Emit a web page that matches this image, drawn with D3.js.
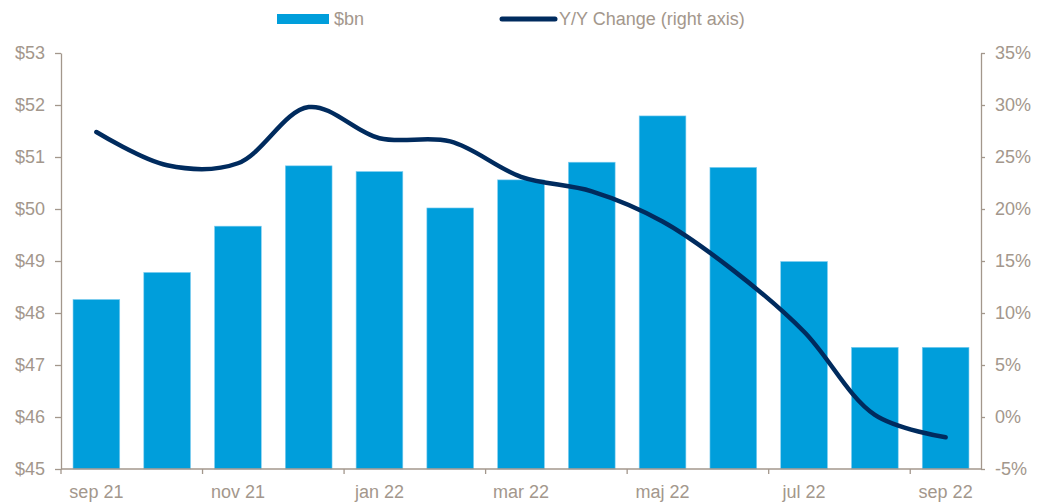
<!DOCTYPE html>
<html>
<head>
<meta charset="utf-8">
<script src="https://cdn.jsdelivr.net/npm/d3@7"></script>
<style>
  body { margin: 0; background: #fff; }
  svg text { font-family: "Liberation Sans", Arial, sans-serif; fill: #a3978c; }
</style>
</head>
<body>
<div id="chart"></div>
<script>
const months = ['sep 21', 'okt 21', 'nov 21', 'dec 21', 'jan 22', 'feb 22', 'mar 22',
  'apr 22', 'maj 22', 'jun 22', 'jul 22', 'aug 22', 'sep 22'];
const spending = [48.26, 48.78, 49.67, 50.83, 50.72, 50.02, 50.56, 50.90, 51.79, 50.80, 48.99, 47.34, 47.34];
const yoyChange = [27.4, 24.2, 24.4, 29.8, 26.8, 26.5, 23.1, 21.7, 18.8, 14.1, 8.2, 0.2, -1.95];
const leftTicks = [45, 46, 47, 48, 49, 50, 51, 52, 53];
const rightTicks = [-5, 0, 5, 10, 15, 20, 25, 30, 35];
const labelMonths = ['sep 21', 'nov 21', 'jan 22', 'mar 22', 'maj 22', 'jul 22', 'sep 22'];

const width = 1045, height = 503;
const margin = { top: 53, right: 64, bottom: 34, left: 61 };
const axisColor = '#a3978c';
const barColor = '#009edb';
const lineColor = '#002b5e';
const fontSize = '18px';

const svg = d3.select('#chart').append('svg')
  .attr('width', width)
  .attr('height', height);

const x = d3.scaleBand()
  .domain(months)
  .range([margin.left, width - margin.right])
  .paddingInner(0.34)
  .paddingOuter(0.17);

const yLeft = d3.scaleLinear()
  .domain([45, 53])
  .range([height - margin.bottom, margin.top]);

const yRight = d3.scaleLinear()
  .domain([-5, 35])
  .range([height - margin.bottom, margin.top]);

// bars
svg.append('g').selectAll('rect')
  .data(months)
  .enter().append('rect')
  .attr('x', d => x(d))
  .attr('width', x.bandwidth())
  .attr('y', (d, i) => yLeft(spending[i]))
  .attr('height', (d, i) => yLeft(45) - yLeft(spending[i]))
  .style('fill', barColor)
  .style('stroke', '#7fcdf0')
  .style('stroke-width', 0.6);

// line
const line = d3.line()
  .x((d, i) => x(months[i]) + x.bandwidth() / 2)
  .y(d => yRight(d))
  .curve(d3.curveCatmullRom.alpha(0.5));

svg.append('path')
  .datum(yoyChange)
  .attr('d', line)
  .style('fill', 'none')
  .style('stroke', lineColor)
  .style('stroke-width', 4.5)
  .style('stroke-linecap', 'round')
  .style('stroke-linejoin', 'round');

function styleAxis(g) {
  g.selectAll('path, line').style('stroke', axisColor).style('stroke-width', 1.3);
  g.selectAll('text').style('fill', axisColor).style('font-size', fontSize)
    .style('font-family', '"Liberation Sans", Arial, sans-serif');
}

// left axis
svg.append('g')
  .attr('transform', `translate(${margin.left},0)`)
  .call(d3.axisLeft(yLeft).tickValues(leftTicks).tickFormat(d => '$' + d)
    .tickSize(6).tickSizeOuter(0).tickPadding(10))
  .call(styleAxis);

// right axis
svg.append('g')
  .attr('transform', `translate(${width - margin.right},0)`)
  .call(d3.axisRight(yRight).tickValues(rightTicks).tickFormat(d => d + '%')
    .tickSize(4).tickSizeOuter(0).tickPadding(10))
  .call(styleAxis);

// bottom axis: labels at bar centres, ticks at band boundaries
const bottom = svg.append('g')
  .attr('transform', `translate(0,${height - margin.bottom})`)
  .call(d3.axisBottom(x).tickValues(labelMonths).tickSize(0).tickSizeOuter(0).tickPadding(16))
  .call(styleAxis);
bottom.select('.domain').remove();

const gap = x.step() - x.bandwidth();
svg.append('line')
  .attr('x1', margin.left).attr('x2', width - margin.right)
  .attr('y1', height - margin.bottom).attr('y2', height - margin.bottom)
  .style('stroke', axisColor).style('stroke-width', 1.3);
svg.append('g').selectAll('line')
  .data(labelMonths)
  .enter().append('line')
  .attr('x1', d => x(d) - gap / 2)
  .attr('x2', d => x(d) - gap / 2)
  .attr('y1', height - margin.bottom)
  .attr('y2', height - margin.bottom + 5)
  .style('stroke', axisColor).style('stroke-width', 1.3);

// legend
const legend = svg.append('g');
legend.append('rect')
  .attr('x', 277).attr('y', 14).attr('width', 52).attr('height', 10)
  .style('fill', barColor);
legend.append('text')
  .attr('x', 334).attr('y', 25)
  .style('font-size', fontSize)
  .text('$bn');
legend.append('line')
  .attr('x1', 502).attr('x2', 555).attr('y1', 19).attr('y2', 19)
  .style('stroke', lineColor).style('stroke-width', 5).style('stroke-linecap', 'round');
legend.append('text')
  .attr('x', 559).attr('y', 25)
  .style('font-size', fontSize)
  .text('Y/Y Change (right axis)');
</script>
</body>
</html>
